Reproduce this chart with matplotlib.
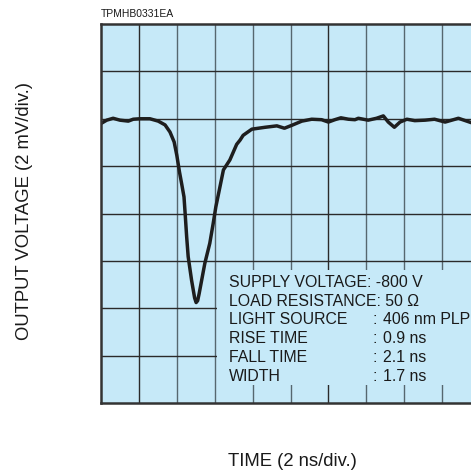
import matplotlib
matplotlib.use("Agg")
import matplotlib.pyplot as plt
from matplotlib.patches import Rectangle

plt.rcParams['font.family'] = ['Liberation Sans', 'DejaVu Sans']

# Waveform (time in divisions, voltage in divisions from bottom)
time_div = [0.00, 0.15, 0.32, 0.50, 0.72, 0.85, 1.03, 1.29, 1.51, 1.69, 1.82, 1.93,
            2.00, 2.07, 2.13, 2.19, 2.22, 2.26, 2.30, 2.39, 2.47, 2.51, 2.55, 2.59,
            2.74, 2.87, 2.96, 3.03, 3.12, 3.23, 3.40, 3.58, 3.67, 3.75, 3.98, 4.33,
            4.64, 4.84, 5.03, 5.30, 5.56, 5.82, 6.00, 6.17, 6.33, 6.53, 6.70, 6.79,
            7.05, 7.27, 7.45, 7.58, 7.74, 7.89, 8.07, 8.28, 8.55, 8.80, 9.08, 9.43,
            9.76, 10.0]
volt_div = [5.90, 5.97, 6.01, 5.97, 5.95, 5.99, 6.00, 6.00, 5.95, 5.87, 5.72, 5.51,
            5.23, 4.88, 4.62, 4.35, 4.00, 3.51, 3.09, 2.59, 2.22, 2.12, 2.16, 2.31,
            2.95, 3.37, 3.79, 4.14, 4.49, 4.92, 5.13, 5.46, 5.55, 5.65, 5.78, 5.82,
            5.85, 5.80, 5.86, 5.95, 5.99, 5.98, 5.93, 5.98, 6.02, 5.99, 5.98, 6.01,
            5.97, 6.01, 6.06, 5.93, 5.82, 5.93, 5.99, 5.96, 5.97, 5.99, 5.93, 6.01,
            5.92, 5.88]

info_labels = ["SUPPLY VOLTAGE: -800 V", "LOAD RESISTANCE: 50 \u03a9", "LIGHT SOURCE",
               "RISE TIME", "FALL TIME", "WIDTH"]
info_values = ["", "", "406 nm PLP", "0.9 ns", "2.1 ns", "1.7 ns"]

W, H = 471, 474
fig = plt.figure(figsize=(W / 100, H / 100), dpi=100)
fig.patch.set_facecolor('white')

bg = '#c6e9f8'
ax = fig.add_axes([101 / W, (H - 403) / H, 379 / W, 379 / H])
ax.set_facecolor(bg)
ax.set_xlim(0, 10)
ax.set_ylim(0, 8)
ax.set_xticks([])
ax.set_yticks([])
for s in ax.spines.values():
    s.set_color('#333333')
    s.set_linewidth(1.8)
    s.set_zorder(6)

dark = '#2a2a2a'
grey = '#56676f'
for i in range(1, 10):
    ax.axvline(i, color=dark if i in (1, 6) else grey, lw=1.0, zorder=1)
for j in range(1, 8):
    ax.axhline(j, color=dark, lw=1.0, zorder=1)

ax.add_patch(Rectangle((3.05, 0.38), 7.5, 2.43, facecolor=bg, edgecolor='none', zorder=2))

ax.plot(time_div, volt_div, color='#1e1e1e', lw=2.5, solid_joinstyle='round',
        solid_capstyle='round', zorder=4)

y0 = 2.45
dy = 0.396
fs = 11.4
for k, (lab, val) in enumerate(zip(info_labels, info_values)):
    y = y0 - k * dy
    ax.text(3.385, y, lab, fontsize=fs, va='baseline', ha='left', color='#1a1a1a', zorder=5)
    if val:
        ax.text(7.16, y, ':', fontsize=fs, va='baseline', ha='left', color='#1a1a1a', zorder=5)
        ax.text(7.44, y, val, fontsize=fs, va='baseline', ha='left', color='#1a1a1a', zorder=5)

fig.text(292 / W, 1 - 462 / H, "TIME (2 ns/div.)", fontsize=13.3, ha='center', va='center',
         color='#1a1a1a')
fig.text(25 / W, 1 - 211.5 / H, "OUTPUT VOLTAGE (2 mV/div.)", fontsize=13.3, ha='center',
         va='center', rotation=90, color='#1a1a1a')

fig.text(101 / W, 1 - 13.7 / H, "TPMHB0331EA", fontsize=7.5, ha='left', va='center',
         color='#1a1a1a')

fig.savefig("out.png", dpi=100, facecolor='white')
